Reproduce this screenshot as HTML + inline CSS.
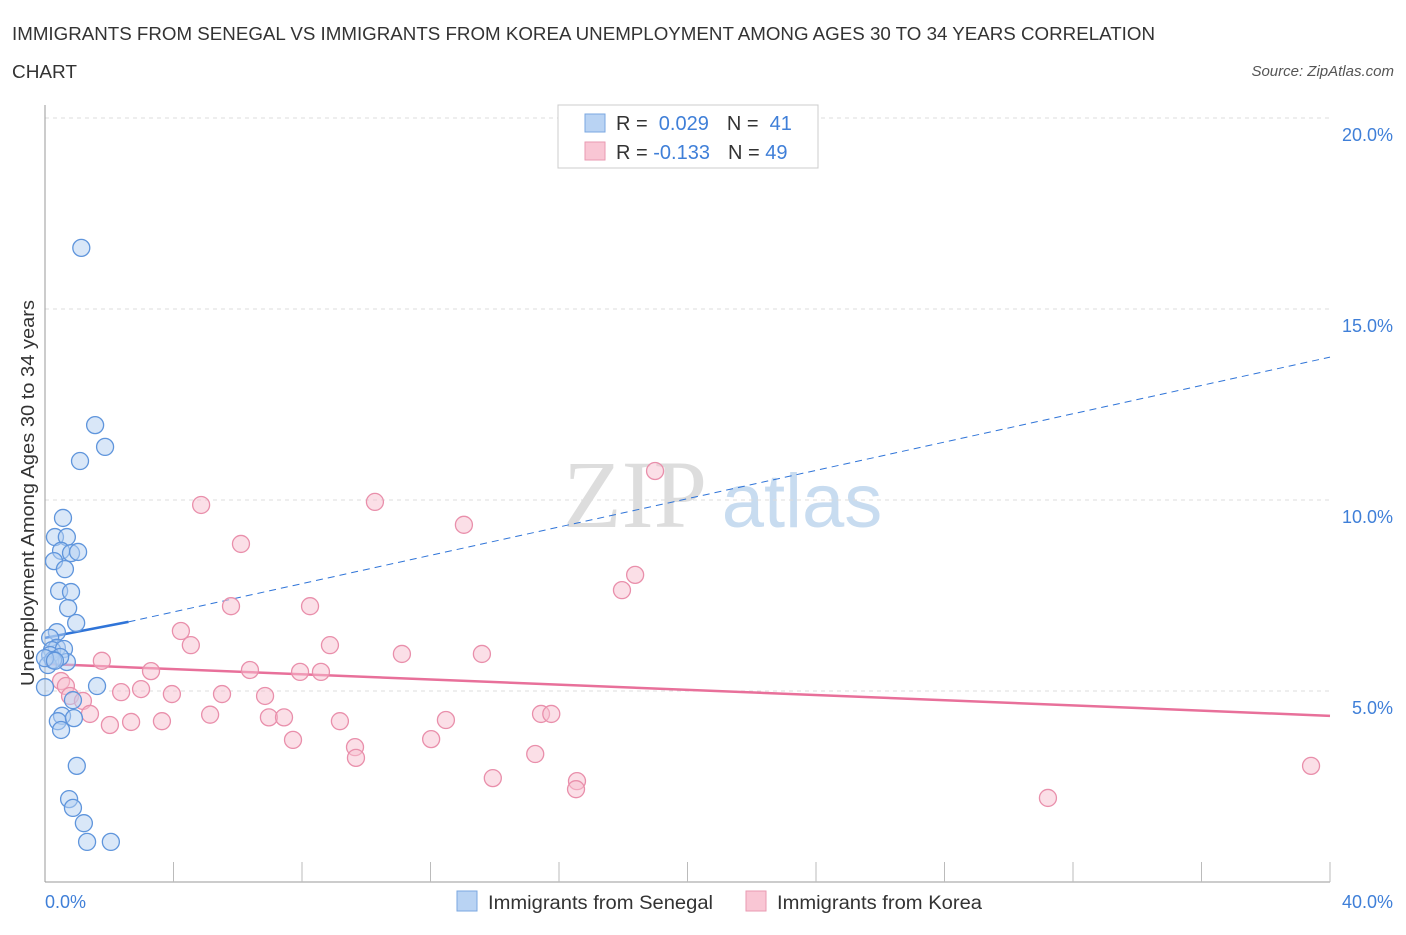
<!DOCTYPE html>
<html><head><meta charset="utf-8"><style>
body{margin:0;background:#fff;font-family:"Liberation Sans",sans-serif;}
</style></head><body>
<svg width="1406" height="930" viewBox="0 0 1406 930" xmlns="http://www.w3.org/2000/svg" font-family="Liberation Sans, sans-serif">
<text x="12" y="40" font-size="18" fill="#333" textLength="1143" lengthAdjust="spacingAndGlyphs">IMMIGRANTS FROM SENEGAL VS IMMIGRANTS FROM KOREA UNEMPLOYMENT AMONG AGES 30 TO 34 YEARS CORRELATION</text>
<text x="12" y="78" font-size="18" fill="#333" textLength="65" lengthAdjust="spacingAndGlyphs">CHART</text>
<text x="1394" y="76" font-size="15" fill="#555" font-style="italic" text-anchor="end">Source: ZipAtlas.com</text>
<text x="635" y="527" font-size="96" fill="#ddd" font-family="Liberation Serif, serif" text-anchor="middle">ZIP</text>
<text x="802" y="527" font-size="76" fill="#c8dcf0" text-anchor="middle">atlas</text>
<g id="grid"></g>
<g id="axes"></g>
<text x="34" y="493" font-size="18" fill="#333" text-anchor="middle" textLength="386" lengthAdjust="spacingAndGlyphs" transform="rotate(-90 34 493)">Unemployment Among Ages 30 to 34 years</text>
<g id="trend"></g>
<g id="pts"></g>
<rect x="558" y="105" width="260" height="63" fill="#fff" stroke="#ccc"/>
<rect x="585" y="114" width="20" height="18" fill="#b9d3f3" stroke="#7aa7e0"/>
<rect x="585" y="142" width="20" height="18" fill="#f9c6d4" stroke="#e99ab2"/>
<text x="616" y="130" font-size="20" fill="#333">R = <tspan fill="#3f7fd8">&#160;0.029</tspan><tspan dx="18">N = </tspan><tspan fill="#3f7fd8">&#160;41</tspan></text>
<text x="616" y="159" font-size="20" fill="#333">R = <tspan fill="#3f7fd8">-0.133</tspan><tspan dx="18">N = </tspan><tspan fill="#3f7fd8">49</tspan></text>
<rect x="457" y="891" width="20" height="20" fill="#b9d3f3" stroke="#7aa7e0"/>
<text x="488" y="909" font-size="19" fill="#333" textLength="225" lengthAdjust="spacingAndGlyphs">Immigrants from Senegal</text>
<rect x="746" y="891" width="20" height="20" fill="#f9c6d4" stroke="#e99ab2"/>
<text x="777" y="909" font-size="19" fill="#333" textLength="205" lengthAdjust="spacingAndGlyphs">Immigrants from Korea</text>
</svg>
<script>
const blueX=[1.13,1.56,1.87,1.09,0.56,0.31,0.68,0.50,0.81,1.03,0.28,0.62,0.44,0.81,0.72,0.97,0.37,0.16,0.37,0.22,0.59,0.68,0.16,0.47,0.09,0.25,0.0,1.62,0.87,0.53,0.40,0.90,0.50,0.99,0.75,0.87,1.21,1.31,2.05,0.0,0.31];
const blueY=[16.6,11.96,11.39,11.02,9.53,9.03,9.03,8.67,8.61,8.64,8.40,8.19,7.62,7.59,7.17,6.78,6.54,6.39,6.13,6.07,6.10,5.76,5.94,5.89,5.68,5.81,5.10,5.13,4.76,4.35,4.21,4.29,3.98,3.04,2.17,1.94,1.54,1.05,1.05,5.86,5.79];
const pinkX=[4.86,10.27,6.10,13.04,18.99,18.37,17.96,5.79,8.25,4.23,4.54,8.87,1.77,3.30,6.38,7.94,8.59,11.11,13.60,0.50,0.65,2.37,2.99,3.95,5.51,6.85,0.78,1.18,1.40,5.14,6.97,7.44,9.18,12.48,15.44,15.76,2.02,2.68,3.64,7.72,12.02,9.65,9.68,15.26,13.94,16.56,16.53,31.22,39.41];
const pinkY=[9.87,9.95,8.85,9.35,10.76,8.04,7.64,7.22,7.22,6.57,6.20,6.20,5.79,5.52,5.55,5.50,5.50,5.97,5.97,5.26,5.13,4.97,5.05,4.92,4.92,4.87,4.87,4.74,4.40,4.38,4.31,4.31,4.21,4.24,4.40,4.40,4.11,4.19,4.21,3.72,3.74,3.53,3.25,3.35,2.72,2.64,2.43,2.20,3.04];
const yTicks=[5,10,15,20];
const yTickLabels=["5.0%","10.0%","15.0%","20.0%"];
const xEndLabels=["0.0%","40.0%"];
const blueTrend=[[0,6.39],[2.6,6.81],[40,13.74]];
const pinkTrend=[[0,5.71],[40,4.35]];
const NS="http://www.w3.org/2000/svg";
const X=v=>45+v/40*1285, Y=v=>882-v/5*191;
function mk(t,a,p){const e=document.createElementNS(NS,t);for(const k in a)e.setAttribute(k,a[k]);p.appendChild(e);return e;}
const grid=document.getElementById('grid'),axes=document.getElementById('axes'),trend=document.getElementById('trend'),pts=document.getElementById('pts');
yTicks.forEach((t,i)=>{
 const l=mk('line',{x1:45,x2:1330,y1:Y(t),y2:Y(t),stroke:'#ddd','stroke-dasharray':'4,4'},grid);
 
 
 const tx=mk('text',{x:1393,y:Y(t)+23,'font-size':18,fill:'#3f7fd8','text-anchor':'end'},grid);
 tx.textContent=yTickLabels[i];
 
 
});
const ya=mk('line',{x1:45,x2:45,y1:105,y2:882,stroke:'#999'},axes);


const xa=mk('line',{x1:45,x2:1330,y1:882,y2:882,stroke:'#999'},axes);


for(let i=1;i<=10;i++){const tk=mk('line',{x1:X(i*4),x2:X(i*4),y1:862,y2:882,stroke:'#bbb'},axes);
 
 }
[[0,'start',45],[40,'end',1393]].forEach((d,i)=>{const t=mk('text',{x:d[2],y:908,'font-size':18,fill:'#3f7fd8','text-anchor':d[1]},axes);t.textContent=xEndLabels[i];
 
 });
function dot(x,y,f,s,name){const c=mk('circle',{cx:X(x),cy:Y(y),r:8.5,fill:f,stroke:s,'stroke-width':1.3,'fill-opacity':0.5},pts);
 
 }
pinkX.forEach((x,i)=>dot(x,pinkY[i],'#f7bfd0','#e98fab','korea-point'));
blueX.forEach((x,i)=>dot(x,blueY[i],'#b3cff2','#5f95dc','senegal-point'));
const b1=mk('line',{x1:X(blueTrend[0][0]),y1:Y(blueTrend[0][1]),x2:X(blueTrend[1][0]),y2:Y(blueTrend[1][1]),stroke:'#2f74d8','stroke-width':2.5},trend);


const b2=mk('line',{x1:X(blueTrend[1][0]),y1:Y(blueTrend[1][1]),x2:X(blueTrend[2][0]),y2:Y(blueTrend[2][1]),stroke:'#2f74d8','stroke-width':1,'stroke-dasharray':'7,5'},trend);


const p1=mk('line',{x1:X(pinkTrend[0][0]),y1:Y(pinkTrend[0][1]),x2:X(pinkTrend[1][0]),y2:Y(pinkTrend[1][1]),stroke:'#e8709a','stroke-width':2.5},trend);


</script>
</body></html>
